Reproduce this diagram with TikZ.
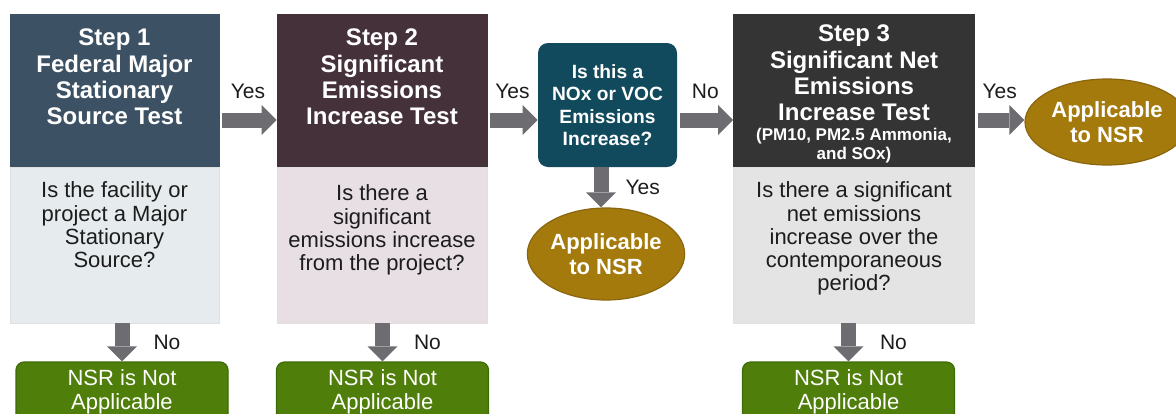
\documentclass[tikz,border=0pt]{standalone}
\usepackage{fontspec}
\setmainfont{Liberation Sans}
\usetikzlibrary{shapes.geometric,arrows.meta,positioning}
\definecolor{Slate}{HTML}{3C5264}
\definecolor{SlateLight}{HTML}{E6ECEE}
\definecolor{Plum}{HTML}{45313A}
\definecolor{PlumLight}{HTML}{E7DFE4}
\definecolor{Coal}{HTML}{343434}
\definecolor{CoalLight}{HTML}{E4E4E5}
\definecolor{Petrol}{HTML}{114A5C}
\definecolor{Ochre}{HTML}{A47A0C}
\definecolor{OchreDark}{HTML}{8A6610}
\definecolor{Leaf}{HTML}{4F7E0A}
\definecolor{LeafDark}{HTML}{3F6A08}
\definecolor{Steel}{HTML}{6D6D71}
\definecolor{Ink}{HTML}{1C1C1C}

\tikzset{
  headbox/.style={fill=#1, draw=#1, inner sep=0pt, minimum height=76.5pt},
  bodybox/.style={fill=#1, draw=black!12, inner sep=0pt, minimum height=78pt},
  headtext/.style={text=white, font=\bfseries\fontsize{12}{13.2}\selectfont, align=center, inner sep=0pt},
  bodytext/.style={text=Ink, font=\fontsize{11}{11.6}\selectfont, align=center, inner sep=0pt},
  query/.style={fill=Petrol, rounded corners=5pt, minimum width=69.5pt, minimum height=62pt,
    text=white, font=\bfseries\fontsize{9.6}{11.2}\selectfont, align=center, inner sep=0pt},
  verdict/.style={ellipse, fill=Ochre, draw=OchreDark, line width=0.6pt, inner sep=0pt,
    text=white, font=\bfseries\fontsize{11}{12.5}\selectfont, align=center},
  notnsr/.style={fill=Leaf, draw=LeafDark, line width=0.6pt, rounded corners=4pt,
    minimum width=106pt, minimum height=30pt, inner sep=0pt,
    text=white, font=\fontsize{11}{12}\selectfont, align=center},
  flow/.style={draw=Steel, line width=7.5pt, shorten <=1.5pt,
    -{Triangle[width=15pt,length=7.5pt,line width=0pt]}},
  tag/.style={text=Ink, font=\fontsize{10.5}{12}\selectfont, inner sep=2pt}
}
\newcommand{\subline}{\fontsize{8.5}{9.5}\selectfont}

\begin{document}
\begin{tikzpicture}[x=0.5pt,y=-0.5pt]
  \useasboundingbox (0,0) rectangle (1176,413);
  \coordinate (row) at (0,120);

  % step 1
  \node[headbox=Slate, minimum width=104.5pt] (s1) at (114.5,90.5) {};
  \node[bodybox=SlateLight, minimum width=104.5pt] (s1b) at (114.5,245) {};
  \node[headtext, below=7.5pt of s1.north] (s1t) {Step 1\\Federal Major\\Stationary\\Source Test};
  \node[bodytext, below=7.5pt of s1b.north] (s1q) {Is the facility or\\project a Major\\Stationary\\Source?};

  % step 2
  \node[headbox=Plum, minimum width=105pt] (s2) at (382,90.5) {};
  \node[bodybox=PlumLight, minimum width=105pt] (s2b) at (382,245) {};
  \node[headtext, below=7.5pt of s2.north] (s2t) {Step 2\\Significant\\Emissions\\Increase Test};
  \node[bodytext, below=9pt of s2b.north] (s2q) {Is there a\\significant\\emissions increase\\from the project?};

  % NOx / VOC check
  \node[query] (dec) at (607.5,105) {Is this a\\NOx or VOC\\Emissions\\Increase?};
  \node[verdict, minimum width=78pt, minimum height=46pt] (e1) at (606,254) {Applicable\\to NSR};

  % step 3
  \node[headbox=Coal, minimum width=120.5pt] (s3) at (854,90.5) {};
  \node[bodybox=CoalLight, minimum width=120.5pt] (s3b) at (854,245) {};
  \node[headtext, below=5.5pt of s3.north] (s3t) {Step 3\\Significant Net\\Emissions\\Increase Test\\[-3.2pt]
    \subline (PM10, PM2.5 Ammonia,\\[-3.7pt]\subline and SOx)};
  \node[bodytext, below=7.5pt of s3b.north] (s3q) {Is there a significant\\net emissions\\increase over the\\contemporaneous\\period?};
  \node[verdict, minimum width=82pt, minimum height=43pt] (e2) at (1107,122) {Applicable\\to NSR};

  % outcomes
  \node[notnsr] (g1) at (122,392) {NSR is Not\\Applicable};
  \node[notnsr] (g2) at (382.5,392) {NSR is Not\\Applicable};
  \node[notnsr] (g3) at (848.5,392) {NSR is Not\\Applicable};

  % yes / no arrows
  \draw[flow] (s1.east |- row) -- (s2.west |- row) node[tag, midway, above=5pt] (y1) {Yes};
  \draw[flow] (s2.east |- row) -- (dec.west |- row) node[tag, midway, above=5pt] (y2) {Yes};
  \draw[flow] (dec.east |- row) -- (s3.west |- row) node[tag, midway, above=5pt] (n0) {No};
  \draw[flow] (s3.east |- row) -- (e2.west |- row) node[tag, midway, above=5pt] (y3) {Yes};
  \draw[flow, shorten <=0pt] ([xshift=-2.5pt]e1.north |- dec.south) -- ([xshift=-2.5pt]e1.north)
    node[tag, midway, right=6.5pt] (y4) {Yes};
  \draw[flow, shorten <=0pt] (s1b.south -| g1.north) -- (g1.north) node[tag, midway, right=10pt] (n1) {No};
  \draw[flow, shorten <=0pt] (s2b.south -| g2.north) -- (g2.north) node[tag, midway, right=10pt] (n2) {No};
  \draw[flow, shorten <=0pt] (s3b.south -| g3.north) -- (g3.north) node[tag, midway, right=10pt] (n3) {No};
\end{tikzpicture}
\end{document}
